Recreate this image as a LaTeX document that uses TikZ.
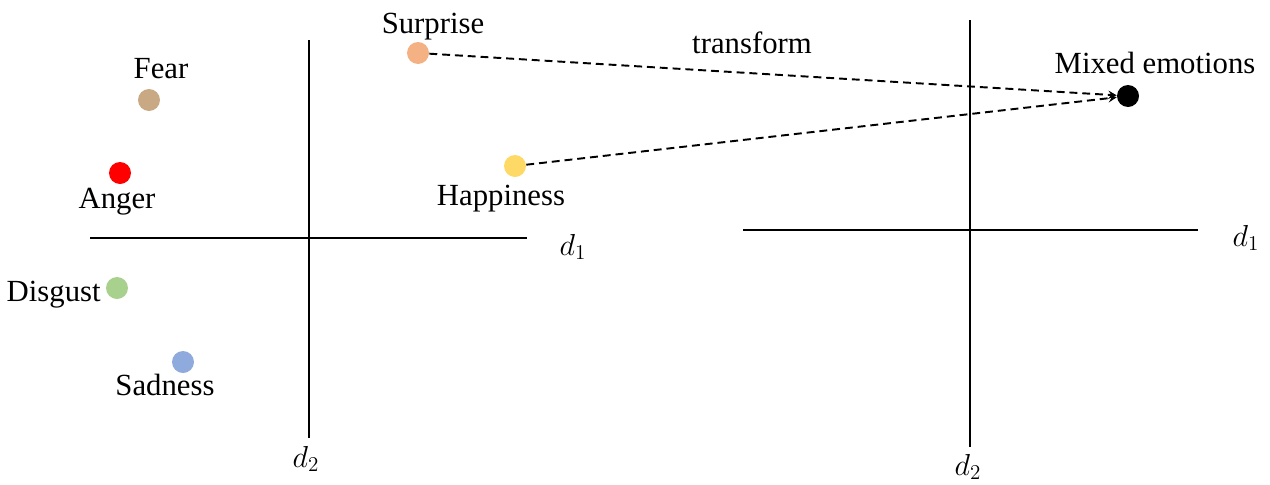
\documentclass[tikz,border=0pt]{standalone}
\usepackage{fontspec}
\setmainfont{Liberation Serif}
\newfontfamily\romanfont{Liberation Serif}
\usetikzlibrary{arrows, positioning}

\definecolor{surprisecol}{RGB}{244,177,131}
\definecolor{fearcol}{RGB}{201,168,132}
\definecolor{angercol}{RGB}{255,0,0}
\definecolor{happycol}{RGB}{255,217,102}
\definecolor{disgustcol}{RGB}{169,209,142}
\definecolor{sadcol}{RGB}{143,170,220}

\begin{document}
\begin{tikzpicture}[
    x=0.02cm, y=-0.02cm,
    emotion/.style={circle, inner sep=0pt, minimum size=0.44cm},
    surprise_dot/.style={emotion, fill=surprisecol},
    fear_dot/.style={emotion, fill=fearcol},
    anger_dot/.style={emotion, fill=angercol},
    happy_dot/.style={emotion, fill=happycol},
    disgust_dot/.style={emotion, fill=disgustcol},
    sad_dot/.style={emotion, fill=sadcol},
    mixed_dot/.style={emotion, fill=black},
    word/.style={inner sep=0pt, anchor=base, font=\romanfont\fontsize{17.5}{20}\selectfont},
    axis/.style={line width=1.1pt},
    arrow/.style={line width=1.1pt, dash pattern=on 4.5pt off 2.8pt, ->, >=stealth}
]
\useasboundingbox (0,0) rectangle (1270,484);

% Left axes
\coordinate (l_west) at (90,238);
\coordinate (l_east) at (527,238);
\coordinate (l_north) at (309,40);
\coordinate (l_south) at (309,438);
\draw[axis] (l_west) -- (l_east);
\draw[axis] (l_north) -- (l_south);
\node[word] (l_d1) at (573,255) {$d_1$};
\node[word] (l_d2) at (306,467) {$d_2$};

% Right axes
\coordinate (r_west) at (743,230);
\coordinate (r_east) at (1198,230);
\coordinate (r_north) at (970,20);
\coordinate (r_south) at (970,447);
\draw[axis] (r_west) -- (r_east);
\draw[axis] (r_north) -- (r_south);
\node[word] (r_d1) at (1246,246) {$d_1$};
\node[word] (r_d2) at (968,475) {$d_2$};

% Basic emotions
\node[surprise_dot] (surprise) at (418,53) {};
\node[fear_dot] (fear) at (149,100) {};
\node[anger_dot] (anger) at (120,173) {};
\node[happy_dot] (happiness) at (515,166) {};
\node[disgust_dot] (disgust) at (117,288) {};
\node[sad_dot] (sadness) at (183,362) {};

\node[word] (surprise_txt) at (433,33) {Surprise};
\node[word] (fear_txt) at (161,78) {Fear};
\node[word] (anger_txt) at (117,208) {Anger};
\node[word] (happiness_txt) at (501,205) {Happiness};
\node[word, anchor=base east] (disgust_txt) at (101,301) {Disgust};
\node[word] (sadness_txt) at (165,395) {Sadness};

% Mixed emotions
\node[mixed_dot] (mixed) at (1128,96) {};
\node[word] (mixed_txt) at (1155,73) {Mixed emotions};

% Connections
\draw[arrow] (surprise) -- (mixed);
\draw[arrow] (happiness) -- (mixed);
\node[word] (transform_txt) at (752,53) {transform};

\end{tikzpicture}
\end{document}
